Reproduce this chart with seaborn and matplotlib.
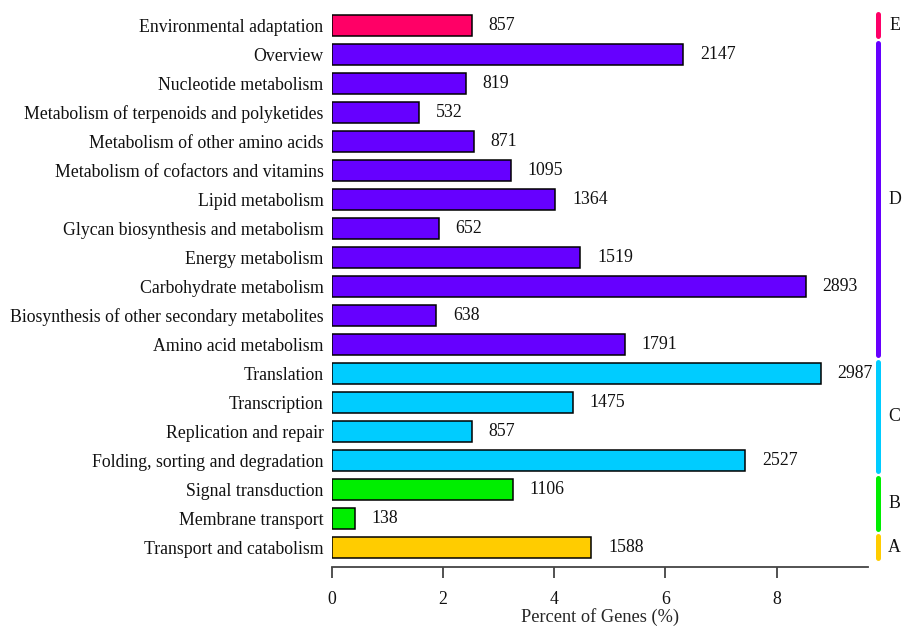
import matplotlib
matplotlib.use("Agg")
import matplotlib.pyplot as plt
import matplotlib.transforms as mtransforms
import seaborn as sns
import pandas as pd

# KEGG pathway categories, top to bottom
categories = [
    "Environmental adaptation",
    "Overview",
    "Nucleotide metabolism",
    "Metabolism of terpenoids and polyketides",
    "Metabolism of other amino acids",
    "Metabolism of cofactors and vitamins",
    "Lipid metabolism",
    "Glycan biosynthesis and metabolism",
    "Energy metabolism",
    "Carbohydrate metabolism",
    "Biosynthesis of other secondary metabolites",
    "Amino acid metabolism",
    "Translation",
    "Transcription",
    "Replication and repair",
    "Folding, sorting and degradation",
    "Signal transduction",
    "Membrane transport",
    "Transport and catabolism",
]
gene_counts = [857, 2147, 819, 532, 871, 1095, 1364, 652, 1519, 2893,
               638, 1791, 2987, 1475, 857, 2527, 1106, 138, 1588]
percent_genes = [2.52, 6.32, 2.41, 1.57, 2.56, 3.22, 4.02, 1.92, 4.47, 8.52,
                 1.88, 5.27, 8.79, 4.34, 2.52, 7.44, 3.26, 0.41, 4.67]
groups = ["E"] + ["D"] * 11 + ["C"] * 4 + ["B"] * 2 + ["A"]
group_order = ["E", "D", "C", "B", "A"]
group_colors = {"E": "#FF0066", "D": "#6600FF", "C": "#00CCFF",
                "B": "#00EE00", "A": "#FFCC00"}

df = pd.DataFrame({"category": categories, "percent": percent_genes,
                   "count": gene_counts, "group": groups})

sns.set_theme(style="white")
plt.rcParams["font.family"] = ["Liberation Serif", "DejaVu Serif"]

fig = plt.figure(figsize=(9.04, 6.28), dpi=100)
ax = fig.add_axes([0.367, 0.097, 0.593, 0.887])

sns.barplot(data=df, y="category", x="percent", hue="group",
            palette=group_colors, order=categories, hue_order=group_order,
            dodge=False, width=0.72, edgecolor="black", linewidth=1.1,
            saturation=1, legend=False, ax=ax, orient="h")

# gene counts next to each bar
for i, (p, c) in enumerate(zip(percent_genes, gene_counts)):
    ax.annotate(str(c), xy=(p, i), xytext=(12, 0), textcoords="offset points",
                ha="left", va="center", fontsize=12.8, color="#111111")

ax.set_xlim(0, 9.64)
ax.set_ylim(len(categories) - 1 + 0.69, -0.52)
ax.set_xticks([0, 2, 4, 6, 8])
ax.set_xlabel("Percent of Genes (%)", fontsize=13.2, labelpad=0)
ax.set_ylabel("")
ax.tick_params(axis="x", direction="out", length=8, width=1.2, colors="#333333",
               labelsize=12.8, pad=9, bottom=True, labelcolor="#111111")
ax.tick_params(axis="y", length=0, labelsize=12.8, pad=6, labelcolor="#111111")
for side in ["left", "right", "top"]:
    ax.spines[side].set_visible(False)
ax.spines["bottom"].set_color("#444444")
ax.spines["bottom"].set_linewidth(1.3)

# group brackets on the right side
trans = mtransforms.blended_transform_factory(ax.transAxes, ax.transData)
for g in group_order:
    idx = [i for i, gg in enumerate(groups) if gg == g]
    y0, y1 = min(idx) - 0.38, max(idx) + 0.38
    line = plt.Line2D([1.0187, 1.0187], [y0, y1], transform=trans,
                      color=group_colors[g], linewidth=3.6,
                      solid_capstyle="round", clip_on=False)
    ax.add_line(line)
    ax.text(1.050, (min(idx) + max(idx)) / 2, g, transform=trans,
            ha="center", va="center", fontsize=12.8, color="#111111")

fig.savefig("out.png", dpi=100)
